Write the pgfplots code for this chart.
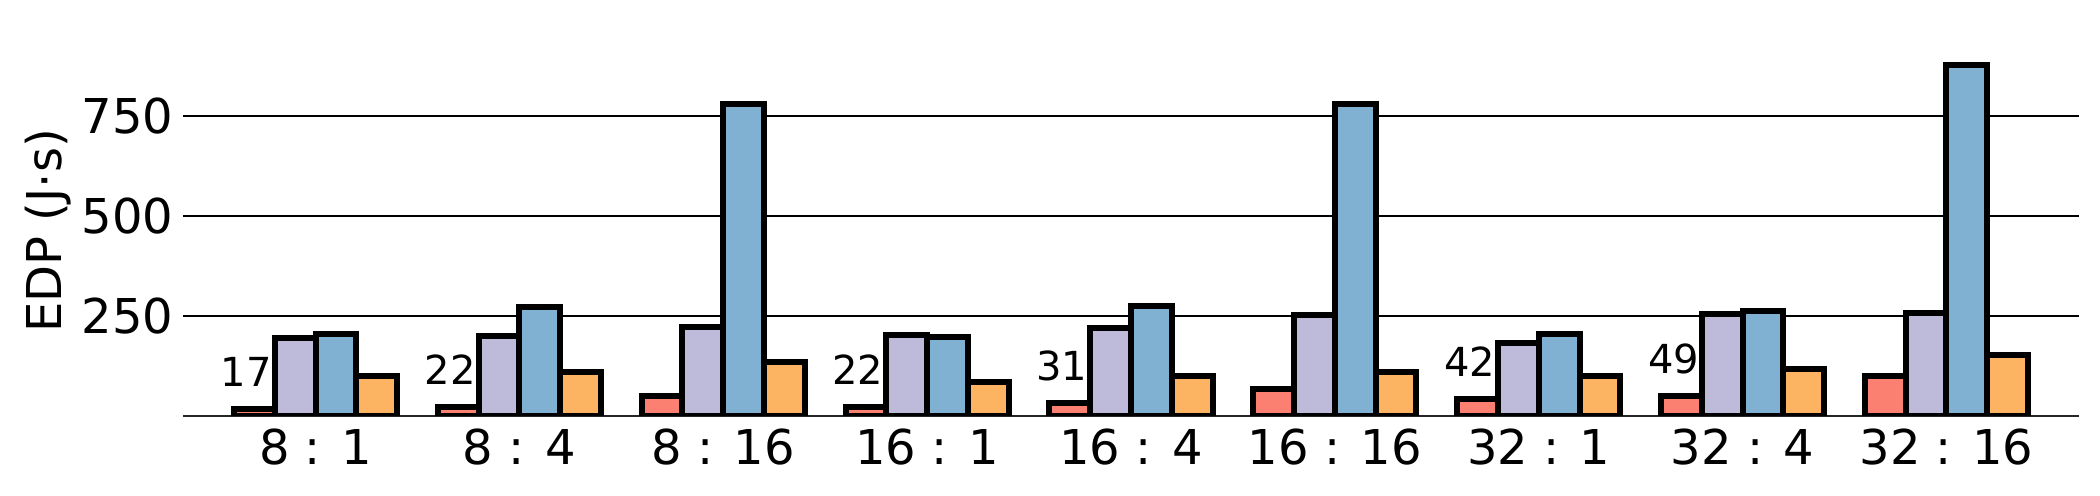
\documentclass[border=0pt]{standalone}
\usepackage{fontspec}
\setmainfont{DejaVu Sans}
\usepackage{pgfplots}
\pgfplotsset{compat=1.18}

\definecolor{cred}{HTML}{FB8072}
\definecolor{cpurple}{HTML}{BEBADA}
\definecolor{cblue}{HTML}{80B1D3}
\definecolor{corange}{HTML}{FDB462}

\begin{document}
\begin{tikzpicture}
  % page = 2100x495 px at 0.25pt per px, axis origin at px (183,415.5)
  \path[use as bounding box] (-45.75pt,-19.875pt) rectangle (479.25pt,103.875pt);
  \begin{axis}[
      at={(0,0)}, anchor=south west,
      scale only axis,
      width=474pt, height=92.35pt,
      xmin=-0.65, xmax=8.65,
      ymin=0, ymax=925,
      ybar, bar width=0.2,
      xtick={0,...,8},
      xticklabels={8 : 1, 8 : 4, 8 : 16, 16 : 1, 16 : 4, 16 : 16, 32 : 1, 32 : 4, 32 : 16},
      ytick={250,500,750},
      major tick length=0pt,
      ymajorgrids,
      grid style={black, line width=0.5pt},
      axis x line*=bottom,
      x axis line style={-, black!85, line width=0.5pt},
      axis y line*=left,
      y axis line style={draw=none},
      /pgf/number format/assume math mode=true,
      ticklabel style={font=\fontsize{12}{14}\selectfont},
      xticklabel style={anchor=north, inner sep=0pt, yshift=-3.1pt},
      yticklabel style={anchor=east, inner sep=0pt, xshift=-2.25pt},
      ylabel={EDP (J·s)},
      every axis y label/.style={at={(axis description cs:-0.0712,0.5)}, rotate=90, anchor=center, font=\fontsize{12}{14}\selectfont},
      every axis plot/.append style={draw=black, line width=1.5pt},
    ]
    \addplot[fill=cred, bar shift=-0.3,
      point meta=explicit symbolic,
      nodes near coords,
      nodes near coords style={font=\fontsize{10}{12}\selectfont, anchor=south, inner sep=0pt, yshift=4.7pt, xshift=-2pt}]
      coordinates {(0,17) [17] (1,22) [22] (2,50) [] (3,22) [22] (4,31) [31] (5,66) [] (6,42) [42] (7,49) [49] (8,99) []};
    \addplot[fill=cpurple, bar shift=-0.1]
      coordinates {(0,194) (1,200) (2,222) (3,201) (4,220) (5,252) (6,181) (7,254) (8,257)};
    \addplot[fill=cblue, bar shift=0.1]
      coordinates {(0,204) (1,271) (2,781) (3,196) (4,273) (5,781) (6,203) (7,261) (8,877)};
    \addplot[fill=corange, bar shift=0.3]
      coordinates {(0,99) (1,108) (2,133) (3,84) (4,99) (5,108) (6,99) (7,116) (8,151)};
  \end{axis}
\end{tikzpicture}
\end{document}
